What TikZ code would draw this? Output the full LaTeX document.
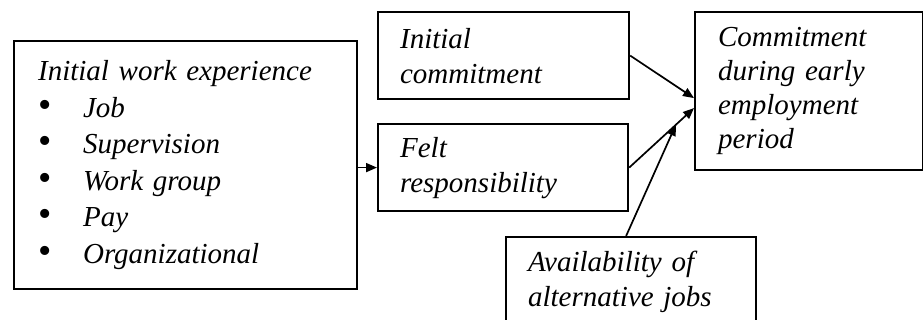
\documentclass[tikz,border=0pt]{standalone}
\usepackage{fontspec}
\setmainfont{Liberation Serif}
\usetikzlibrary{arrows.meta}
\newcommand{\bigbul}{\makebox[45pt][l]{\smash{\upshape\fontsize{38}{36}\selectfont\textbullet}}}
\begin{document}
\begin{tikzpicture}[x=1pt,y=1pt,
  box/.style={draw=black, line width=2.2pt, rectangle, anchor=north west, align=left,
    font={\fontsize{29}{35}\selectfont\itshape}, inner ysep=0pt},
  conn/.style={line width=1.7pt, -{Triangle[length=11pt,width=9pt]}}]
\clip (0,0) rectangle (923,320);
\fill[white] (0,0) rectangle (923,320);
\node[box, inner xsep=24pt, text width=295pt, minimum height=248pt,
  font={\fontsize{29}{36.6}\selectfont\itshape}] (exp) at (13,280)
  {Initial work experience\\
   \bigbul Job\\
   \bigbul Supervision\\
   \bigbul Work group\\
   \bigbul Pay\\
   \bigbul Organizational};
\node[box, inner xsep=22pt, text width=207pt, minimum height=87pt] (ic) at (377,309)
  {Initial\\commitment};
\node[box, inner xsep=22pt, text width=206pt, minimum height=87pt] (fr) at (377,197)
  {Felt\\responsibility};
\node[box, inner xsep=23pt, text width=182pt, minimum height=158pt,
  font={\fontsize{29}{34}\selectfont\itshape}] (cm) at (694,309)
  {Commitment\\during early\\employment\\period};
\node[box, inner xsep=22pt, text width=206pt, minimum height=90pt] (av) at (505,84)
  {Availability of\\alternative jobs};
\coordinate (t1) at ([yshift=-7pt]cm.west);
\coordinate (t2) at ([yshift=-17pt]cm.west);
\draw[conn] (exp.east |- fr.west) -- (fr.west);
\draw[conn] (ic.east) -- (t1);
\draw[conn] (fr.east) -- (t2) coordinate[pos=0.72] (meet);
\draw[conn] ([xshift=-5pt]av.north) -- (meet);
\end{tikzpicture}
\end{document}
